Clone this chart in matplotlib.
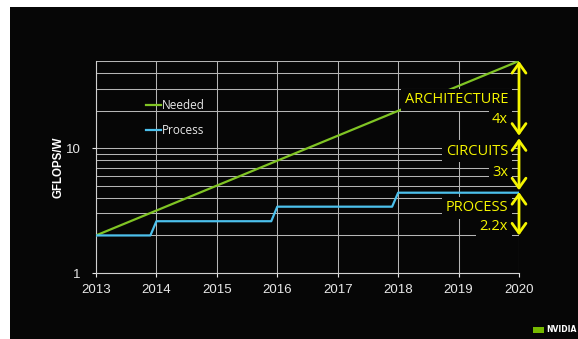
import matplotlib.pyplot as plt
from matplotlib.patches import Rectangle
from matplotlib.ticker import LogLocator, NullFormatter, FixedLocator

# data
needed_years = [2013, 2020]
needed_vals = [2.0, 50.0]

process_years = [2013, 2013.9, 2014, 2015.9, 2016, 2017.9, 2018, 2020]
process_vals = [2.0, 2.0, 2.6, 2.6, 3.4, 3.4, 4.4, 4.4]

# stacked contributions (top, bottom) drawn as arrows at 2020
gain_names = ['ARCHITECTURE', 'CIRCUITS', 'PROCESS']
gain_labels = ['4x', '3x', '2.2x']
gain_spans = [(50.0, 12.6), (12.0, 4.6), (4.45, 2.0)]
gain_name_y = [24.4, 9.46, 3.34]
gain_label_y = [17.1, 6.4, 2.35]

years = list(range(2013, 2021))

ARIAL = ['Liberation Sans', 'DejaVu Sans']
SANS = ['Open Sans', 'DejaVu Sans']
YEL = '#f5f500'
BG = '#060606'

fig = plt.figure(figsize=(5.78, 3.39), dpi=100, facecolor='white')
fig.patches.append(Rectangle((10 / 578, 0), 1, (339 - 7) / 339, transform=fig.transFigure,
                             facecolor=BG, edgecolor='none', zorder=-5))

ax = fig.add_axes([96 / 578, (339 - 273) / 339, 423 / 578, 212 / 339])
ax.set_facecolor(BG)

ax.plot(needed_years, needed_vals, color='#80c424', lw=1.6, label='Needed', zorder=3)
ax.plot(process_years, process_vals, color='#4cc0ec', lw=1.6, label='Process', zorder=3)

ax.set_yscale('log')
ax.set_ylim(1, 50)
ax.set_xlim(2013, 2020)
ax.set_xticks(years)
ax.yaxis.set_major_locator(FixedLocator([1, 10]))
ax.yaxis.set_minor_locator(LogLocator(base=10, subs=range(2, 10)))
ax.yaxis.set_minor_formatter(NullFormatter())
ax.set_yticklabels(['1', '10'])

ax.grid(True, which='both', axis='y', color='#b5b5b5', lw=0.75, zorder=1)
ax.grid(True, which='major', axis='x', color='#b5b5b5', lw=0.75, zorder=1)
ax.set_axisbelow(True)

for s in ['top', 'right']:
    ax.spines[s].set_visible(False)
for s in ['left', 'bottom']:
    ax.spines[s].set_color('#d0d0d0')
ax.tick_params(colors='#e8e8e8', length=3)
ax.tick_params(axis='y', which='minor', length=0)
ax.tick_params(axis='x', pad=5)
ax.tick_params(axis='y', pad=8)
for t in ax.get_xticklabels() + ax.get_yticklabels():
    t.set_family(ARIAL)
    t.set_fontsize(9.5)
ax.set_ylabel('GFLOPS/W', color='white', fontsize=8.3, fontweight='bold',
              family=ARIAL, labelpad=1)

ax.legend(loc='upper left', bbox_to_anchor=(0.118, 0.82), frameon=False,
          borderaxespad=0, borderpad=0,
          handlelength=1.3, handletextpad=0.05, labelspacing=1.0,
          prop={'family': SANS, 'size': 8.5}, labelcolor='#e8e8e8')

box = dict(facecolor=BG, edgecolor='none', pad=2.5)
for name, lab, (top, bot), ny, ly in zip(gain_names, gain_labels, gain_spans,
                                          gain_name_y, gain_label_y):
    ax.annotate('', xy=(2020, bot), xytext=(2020, top),
                arrowprops=dict(arrowstyle='<->,head_length=0.7,head_width=0.5',
                                color=YEL, lw=2, shrinkA=0, shrinkB=0),
                annotation_clip=False, zorder=5)
    ax.text(2019.82, ny, name, color=YEL, fontsize=10.5, family=SANS,
            ha='right', va='center', bbox=box, zorder=4)
    ax.text(2019.82, ly, lab, color=YEL, fontsize=10.5, family=SANS,
            ha='right', va='center', bbox=box, zorder=4)

# little logo at bottom right
fig.patches.append(Rectangle((533 / 578, 6 / 339), 11 / 578, 6 / 339, transform=fig.transFigure,
                             facecolor='#76b900', edgecolor='none', zorder=2))
fig.text(546 / 578, 9 / 339, 'NVIDIA', color='white', fontsize=5.5, fontweight='bold',
         va='center', ha='left')

fig.savefig('out.png', dpi=100, facecolor=fig.get_facecolor())
